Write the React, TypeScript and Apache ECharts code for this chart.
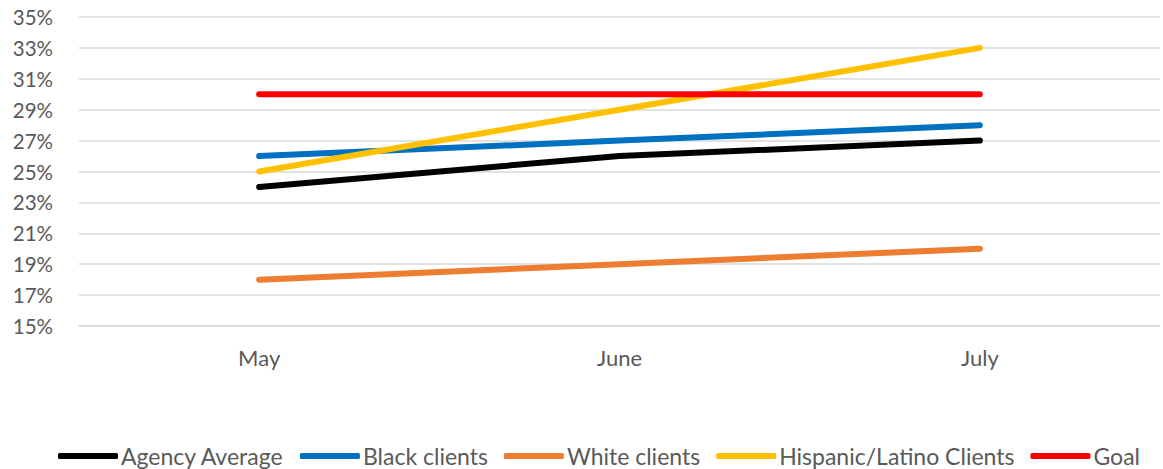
import React, { useEffect, useRef } from "react";
import * as echarts from "echarts";

const months = ["May", "June", "July"];
const agencyAverage = [24, 26, 27];
const blackClients = [26, 27, 28];
const whiteClients = [18, 19, 20];
const hispanicClients = [25, 29, 33];
const goal = [30, 30, 30];

const seriesDefs = [
  { name: "Agency Average", data: agencyAverage, color: "#000000" },
  { name: "Black clients", data: blackClients, color: "#0070C0" },
  { name: "White clients", data: whiteClients, color: "#ED7D31" },
  { name: "Hispanic/Latino Clients", data: hispanicClients, color: "#FFC000" },
  { name: "Goal", data: goal, color: "#FF0000" },
];

const FONT = "Lato, 'Open Sans', sans-serif";

export default function App() {
  const ref = useRef<HTMLDivElement>(null);
  useEffect(() => {
    if (!ref.current) return;
    const chart = echarts.init(ref.current, undefined, { renderer: "svg" });
    chart.setOption({
      animation: false,
      backgroundColor: "#ffffff",
      grid: { left: 79, right: 3, top: 17, bottom: 143 },
      legend: {
        top: 444,
        left: 58,
        padding: 0,
        icon: "roundRect",
        itemWidth: 60,
        itemHeight: 6,
        itemGap: 16,
        textStyle: {
          color: "#595959",
          fontSize: 23,
          lineHeight: 24,
          fontFamily: FONT,
          padding: [0, 0, 0, -2],
        },
        data: seriesDefs.map((s) => s.name),
      },
      xAxis: {
        type: "category",
        data: months,
        boundaryGap: true,
        axisLine: { show: true, lineStyle: { color: "#d9d9d9", width: 1.5 } },
        axisTick: { show: false },
        axisLabel: { color: "#595959", fontSize: 22, fontFamily: FONT, margin: 20 },
      },
      yAxis: {
        type: "value",
        min: 15,
        max: 35,
        interval: 2,
        axisLine: { show: false },
        axisTick: { show: false },
        splitLine: { lineStyle: { color: "#d9d9d9", width: 1.5 } },
        axisLabel: {
          color: "#595959",
          fontSize: 20.5,
          fontFamily: FONT,
          margin: 26,
          formatter: (v: number) => `${v}%`,
        },
      },
      series: seriesDefs.map((s) => ({
        name: s.name,
        type: "line",
        data: s.data,
        symbol: "none",
        showSymbol: false,
        color: s.color,
        lineStyle: { color: s.color, width: 6, cap: "round", join: "round" },
        itemStyle: { color: s.color },
      })),
    });
    return () => chart.dispose();
  }, []);
  return (
    <div
      ref={ref}
      style={{ position: "fixed", left: 0, top: 0, width: 1163, height: 469 }}
    />
  );
}
